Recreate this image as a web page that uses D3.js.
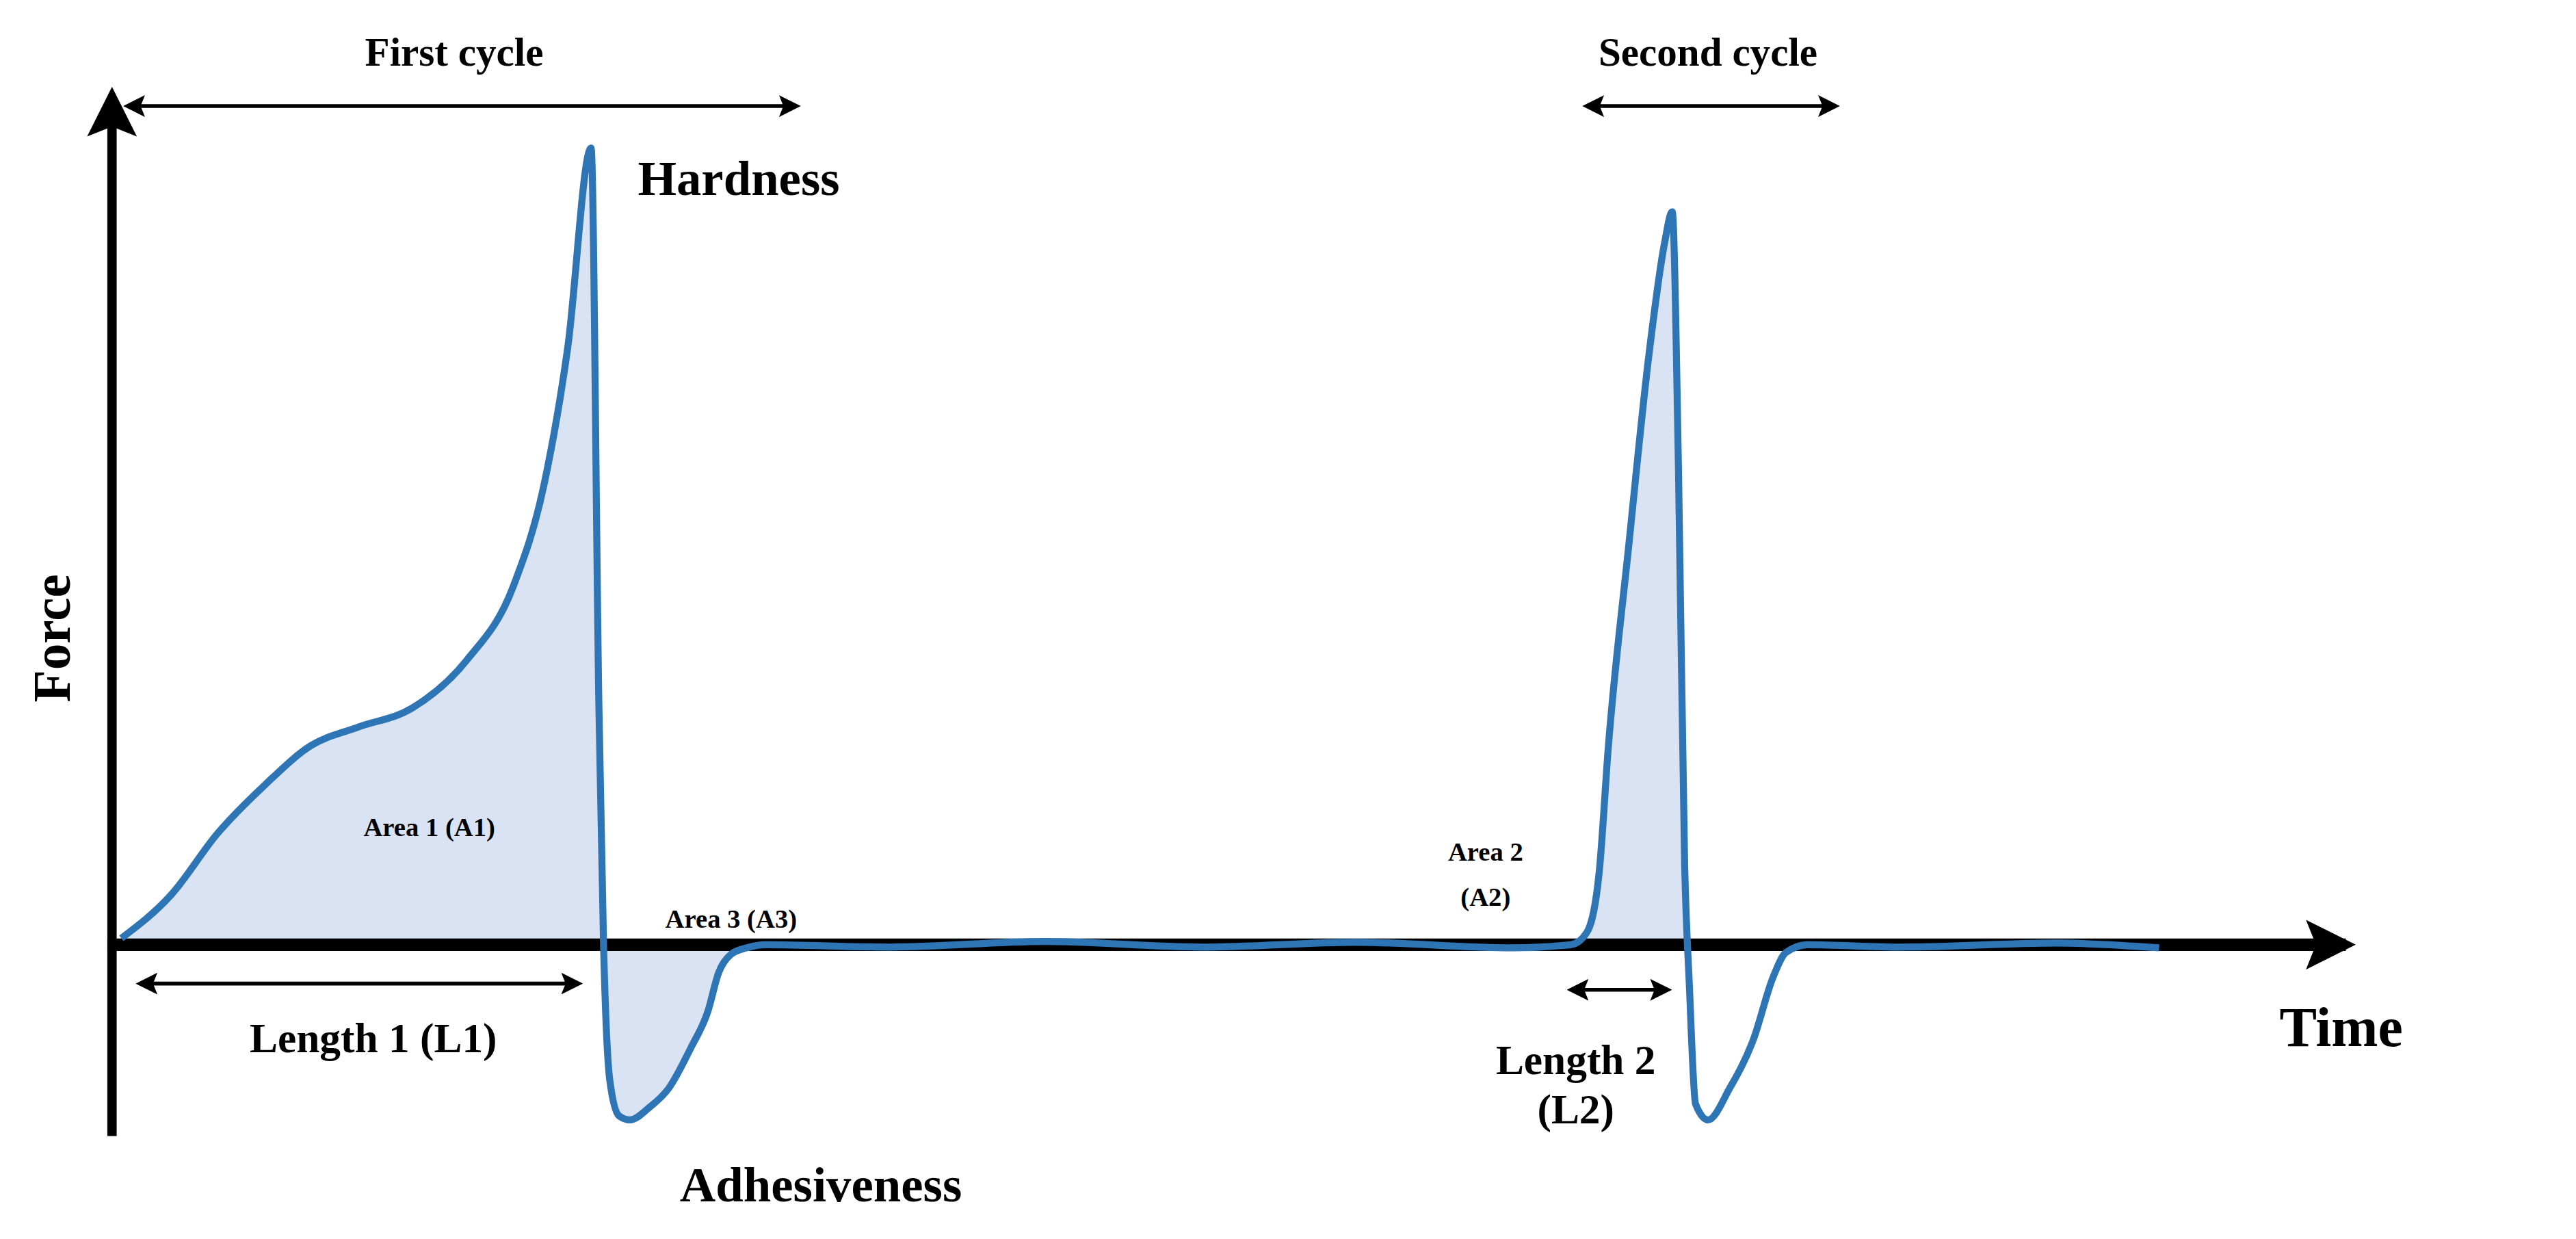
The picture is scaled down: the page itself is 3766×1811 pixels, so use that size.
<!DOCTYPE html>
<html><head><meta charset="utf-8">
<script src="https://cdn.jsdelivr.net/npm/d3@7"></script>
<style>body{margin:0;background:#fff}svg{display:block}text{font-family:"Liberation Serif","DejaVu Serif",serif;font-weight:bold;fill:#000}</style>
</head><body>
<script>
// texture profile curve: [time, force] (force relative to hardness peak)
var profile = [[6,0.008],[38,0.0625],[68,0.14],[98,0.2],[128,0.25],[158,0.273],[193,0.297],[228,0.357],[258,0.45],[278,0.58],[293,0.75],[308,1.0],
  [313,0.3],[316,0],[320,-0.17],[326,-0.215],[333,-0.22],[345,-0.205],[358,-0.18],[372,-0.13],[383,-0.084],[390,-0.035],[398,-0.012],[408,-0.004],[420,0],
  [500,-0.003],[600,0.004],[700,-0.003],[800,0.003],[900,-0.004],[938,0],[948,0.015],[956,0.09],[962,0.25],[975,0.5],[988,0.74],[998,0.88],[1003,0.92],
  [1007,0.6],[1011,0.1],[1014,-0.05],[1018,-0.2],[1026,-0.22],[1040,-0.18],[1055,-0.12],[1068,-0.04],[1076,-0.01],[1090,0],[1150,-0.003],[1250,0.002],[1316,-0.004]];
var fillEnd = 1013;

var W = 3766, H = 1811;
var svg = d3.select("body").append("svg").attr("width", W).attr("height", H)
  .attr("viewBox", "0 0 1656 796");

var x = d3.scaleLinear().domain([0,1433]).range([72,1505]);
var y = d3.scaleLinear().domain([0,1]).range([607,95]);

var defs = svg.append("defs");
function marker(id, size){
  defs.append("marker").attr("id", id).attr("viewBox","0 0 10 10").attr("refX",8).attr("refY",5)
    .attr("markerWidth",size).attr("markerHeight",size).attr("orient","auto-start-reverse")
    .attr("markerUnits","userSpaceOnUse")
    .append("path").attr("d","M0,0L10,5L0,10L2,5Z").attr("fill","#000");
}
marker("big", 32); marker("small", 14);

//fill
var fillData = profile.filter(function(d){ return d[0] <= fillEnd; });
svg.append("path").datum(fillData)
  .attr("d", d3.area().curve(d3.curveMonotoneX).x(function(d){return x(d[0]);}).y0(y(0)).y1(function(d){return y(d[1]);}))
  .attr("fill","#dae3f3");

//axes
svg.append("line").attr("x1",72).attr("y1",730).attr("x2",72).attr("y2",62)
  .attr("stroke","#000").attr("stroke-width",6).attr("marker-end","url(#big)");
svg.append("line").attr("x1",69).attr("y1",607).attr("x2",1508).attr("y2",607)
  .attr("stroke","#000").attr("stroke-width",8).attr("marker-end","url(#big)");

//curve
svg.append("path").datum(profile)
  .attr("d", d3.line().curve(d3.curveMonotoneX).x(function(d){return x(d[0]);}).y(function(d){return y(d[1]);}))
  .attr("fill","none").attr("stroke","#2e75b6").attr("stroke-width",4.5).attr("stroke-linejoin","round");

//double arrows
function dbl(x1,x2,yy){
  svg.append("line").attr("x1",x1).attr("x2",x2).attr("y1",yy).attr("y2",yy)
    .attr("stroke","#000").attr("stroke-width",2.5)
    .attr("marker-start","url(#small)").attr("marker-end","url(#small)");
}
dbl(82,512,68); dbl(1020,1180,68); dbl(90,372,632); dbl(1010,1072,636);

function label(t, xx, yy, size, anchor){
  svg.append("text").attr("x",xx).attr("y",yy).attr("font-size",size)
    .attr("text-anchor",anchor||"middle").text(t);
}
label("First cycle",292,42,26);
label("Second cycle",1098,42,26);
label("Hardness",410,125,32,"start");
label("Area  1 (A1)",276,537,17);
label("Area 3 (A3)",470,596,17);
label("Area 2",955,553,17);
label("(A2)",955,582,17);
label("Length 1 (L1)",240,676,27);
label("Length 2",1013,690,27);
label("(L2)",1013,722,27);
label("Time",1505,672,36);
label("Adhesiveness",437,772,32,"start");
svg.append("text").attr("transform","translate(45,410) rotate(-90)")
  .attr("text-anchor","middle").attr("font-size",34).text("Force");
</script>
</body></html>
